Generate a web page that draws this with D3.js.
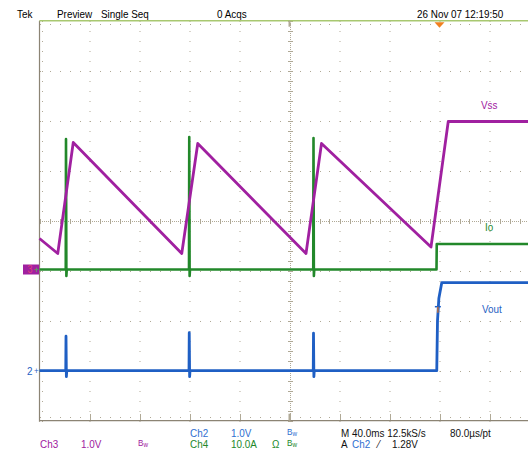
<!DOCTYPE html>
<html>
<head>
<meta charset="utf-8">
<script src="https://cdn.jsdelivr.net/npm/d3@7"></script>
<style>
  html, body { margin: 0; padding: 0; background: #fff; }
  svg { display: block; }
  text { font-family: "Liberation Sans", Arial, sans-serif; }
</style>
</head>
<body>
<svg id="scope" width="528" height="453"></svg>
<script>
// time in ms (40 ms/div), values in channel units
const vssTrace = [[0, 0.62], [14.6, 0.32], [27.0, 2.54], [113.8, 0.32], [126.6, 2.52],
  [213.2, 0.32], [225.6, 2.52], [313.2, 0.45], [327.0, 2.96], [400, 2.96]];
const ioTrace = [[0, 0], [21.0, 0], [21.2, 26.1], [21.5, -1.3], [21.8, 0],
  [119.6, 0], [119.8, 26.5], [120.1, -1.3], [120.4, 0],
  [219.0, 0], [219.2, 26.3], [219.5, -1.3], [219.8, 0],
  [317.6, 0], [317.8, 5.1], [400, 5.1]];
const voutTrace = [[0, 0], [21.0, 0], [21.2, 0.69], [21.5, -0.12], [21.8, 0],
  [119.6, 0], [119.8, 0.76], [120.1, -0.12], [120.4, 0],
  [219.0, 0], [219.2, 0.75], [219.5, -0.12], [219.8, 0],
  [317.8, 0], [318.4, 1.0], [319.5, 1.45], [321.8, 1.76], [400, 1.76]];

const timeDomain = [0, 400];
const divDomain = [-4, 4];
const triggerTime = 320;
const triggerLevel = 1.28;

const chans = {
  ch3: { perDiv: 1.0, offset: -0.976, color: "#a020a0" },
  ch4: { perDiv: 10.0, offset: -0.976, color: "#22882a" },
  ch2: { perDiv: 1.0, offset: -3.0, color: "#1f5fc4" }
};

const svg = d3.select("#scope");

const x = d3.scaleLinear().domain(timeDomain).range([39.5, 539.5]);
const yDiv = d3.scaleLinear().domain(divDomain).range([420.7, 20.7]);
const yFor = ch => v => yDiv(v / chans[ch].perDiv + chans[ch].offset);

const dotCol = "#b0a996";
const gGrid = svg.append("g");

// dotted graticule lines
const majorX = d3.range(1, 10).map(i => i * 40);
const majorY = d3.range(-3, 4);
const minorX = d3.range(0, 401, 8);
const minorY = d3.range(-4, 4.01, 0.2);

majorX.filter(t => t !== 200).forEach(t => {
  gGrid.selectAll(null).data(minorY).enter().append("rect")
    .attr("x", Math.round(x(t)) - 0.5).attr("y", d => Math.round(yDiv(d)))
    .attr("width", 1).attr("height", 1).attr("fill", dotCol);
});
majorY.filter(d => d !== 0).forEach(dv => {
  gGrid.selectAll(null).data(minorX).enter().append("rect")
    .attr("x", d => Math.round(x(d))).attr("y", Math.round(yDiv(dv)))
    .attr("width", 1).attr("height", 1).attr("fill", dotCol);
});

// center cross, denser with ticks
const fineX = d3.range(0, 401, 1.6);
const fineY = d3.range(-4, 4.01, 0.04);
gGrid.selectAll(null).data(fineX).enter().append("rect")
  .attr("x", d => Math.round(x(d))).attr("y", Math.round(yDiv(0)))
  .attr("width", 1).attr("height", 1).attr("fill", dotCol);
gGrid.selectAll(null).data(fineY).enter().append("rect")
  .attr("x", Math.round(x(200))).attr("y", d => Math.round(yDiv(d)))
  .attr("width", 1).attr("height", 1).attr("fill", dotCol);
gGrid.selectAll(null).data(minorX).enter().append("rect")
  .attr("x", d => Math.round(x(d))).attr("y", Math.round(yDiv(0)) - 2)
  .attr("width", 1).attr("height", 5).attr("fill", dotCol);
gGrid.selectAll(null).data(minorY).enter().append("rect")
  .attr("x", Math.round(x(200)) - 2).attr("y", d => Math.round(yDiv(d)))
  .attr("width", 5).attr("height", 1).attr("fill", dotCol);

// edge ticks
gGrid.selectAll(null).data(minorY).enter().append("rect")
  .attr("x", 42).attr("y", d => Math.round(yDiv(d)))
  .attr("width", 1).attr("height", 1).attr("fill", dotCol);
gGrid.selectAll(null).data(minorX).enter().append("rect")
  .attr("x", d => Math.round(x(d))).attr("y", 24)
  .attr("width", 1).attr("height", 1).attr("fill", dotCol);
gGrid.selectAll(null).data(minorX).enter().append("rect")
  .attr("x", d => Math.round(x(d))).attr("y", 417)
  .attr("width", 1).attr("height", 1).attr("fill", dotCol);
gGrid.selectAll(null).data(majorX).enter().append("rect")
  .attr("x", d => Math.round(x(d))).attr("y", 414)
  .attr("width", 1).attr("height", 6).attr("fill", dotCol);

// frame
svg.append("line").attr("x1", x(0)).attr("x2", x(0)).attr("y1", yDiv(4)).attr("y2", yDiv(-4) + 1)
  .attr("stroke", "#8c8474").attr("stroke-width", 1.2);
svg.append("line").attr("x1", x(0)).attr("x2", x(400)).attr("y1", yDiv(-4)).attr("y2", yDiv(-4))
  .attr("stroke", "#8c8474").attr("stroke-width", 1.2);
svg.append("line").attr("x1", x(0)).attr("x2", x(400)).attr("y1", yDiv(4)).attr("y2", yDiv(4))
  .attr("stroke", "#a8c870").attr("stroke-width", 1.5);
// center markers on top/bottom edge
svg.append("rect").attr("x", x(200) - 1).attr("y", yDiv(4)).attr("width", 2).attr("height", 6).attr("fill", "#b0a996");
svg.append("rect").attr("x", x(200) - 1).attr("y", yDiv(-4) - 7).attr("width", 2).attr("height", 7).attr("fill", "#b0a996");

// traces
function trace(data, ch, width) {
  const yy = yFor(ch);
  const line = d3.line().x(d => x(d[0])).y(d => yy(d[1]));
  svg.append("path").attr("d", line(data))
    .attr("fill", "none").attr("stroke", chans[ch].color)
    .attr("stroke-width", width).attr("stroke-linejoin", "round");
}
trace(ioTrace, "ch4", 2.6);
trace(voutTrace, "ch2", 2.8);
trace(vssTrace, "ch3", 2.8);

// trigger marker on ch2
const ty = yFor("ch2")(triggerLevel);
const tx = x(triggerTime - 1.3);
svg.append("line").attr("x1", tx - 3).attr("x2", tx + 3).attr("y1", ty).attr("y2", ty)
  .attr("stroke", "#1f5fc4").attr("stroke-width", 1.5);
svg.append("line").attr("x1", tx).attr("x2", tx).attr("y1", ty).attr("y2", ty + 6)
  .attr("stroke", "#e07020").attr("stroke-width", 1.2);

// trigger position arrow at top
const tp = x(triggerTime);
svg.append("path")
  .attr("d", `M${tp - 5},${yDiv(4) + 1.5} L${tp + 5},${yDiv(4) + 1.5} L${tp},${yDiv(4) + 7} Z`)
  .attr("fill", "#f08020");

// text helper
function txt(px, py, s, color, size) {
  return svg.append("text").attr("x", px).attr("y", py)
    .attr("fill", color).attr("font-size", size || 11)
    .attr("transform", `translate(${px},0) scale(0.9,1) translate(${-px},0)`)
    .text(s);
}

// channel markers on the left
svg.append("rect").attr("x", 23).attr("y", yFor("ch3")(0) - 5).attr("width", 16).attr("height", 10)
  .attr("fill", "#a020a0");
txt(27.5, yFor("ch3")(0) + 4, "3", "#e0407a", 10);
txt(34, yFor("ch3")(0) + 4, "+", "#40c040", 9);
txt(27, yFor("ch2")(0) + 4, "2", "#1f5fc4", 11);
txt(34, yFor("ch2")(0) + 3.5, "+", "#1f5fc4", 9);

// trace labels
txt(481, 109, "Vss", "#a020a0");
txt(485, 231, "Io", "#22882a");
txt(482, 313, "Vout", "#1f5fc4");

// header
txt(17, 18, "Tek", "#000");
txt(57, 18, "Preview", "#000");
txt(101, 18, "Single Seq", "#000");
txt(217, 18, "0 Acqs", "#000");
txt(417, 18, "26 Nov 07 12:19:50", "#000");

// footer
function bw(px, py, color) {
  const t = txt(px, py, "", color, 9);
  t.append("tspan").text("B");
  t.append("tspan").attr("font-size", 7).attr("dy", 1).text("w");
}
const c3 = "#a020a0", c2 = "#2f6fd0", c4 = "#22882a";
txt(190, 437, "Ch2", c2);
txt(231, 437, "1.0V", c2);
bw(287, 435, c2);
txt(341, 437, "M 40.0ms 12.5kS/s", "#111");
txt(450, 437, "80.0µs/pt", "#111");

txt(40, 448, "Ch3", c3);
txt(81, 448, "1.0V", c3);
bw(138, 446, c3);
txt(190, 448, "Ch4", c4);
txt(231, 448, "10.0A", c4);
txt(272, 448, "Ω", c4);
bw(287, 446, c4);
txt(341, 448, "A", "#111");
txt(352, 448, "Ch2", c2);
txt(378, 448, "⁄", "#111");
txt(392, 448, "1.28V", "#111");
</script>
</body>
</html>
